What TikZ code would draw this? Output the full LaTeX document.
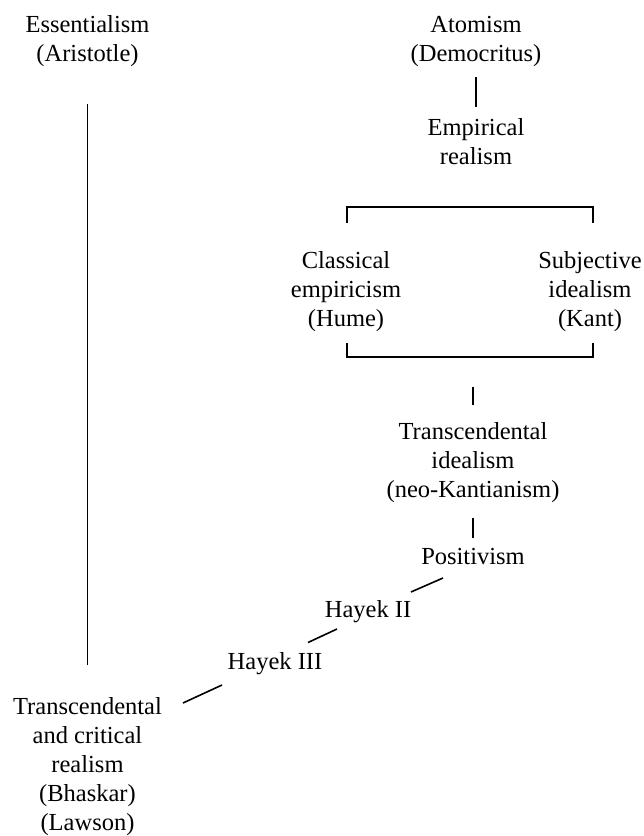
\documentclass[tikz,border=0pt]{standalone}
\usepackage{fontspec}
\setmainfont{Liberation Serif}
\usetikzlibrary{calc}
\tikzset{
  lbl/.style={anchor=base, inner sep=0pt, align=center, font=\fontsize{24.5}{29}\selectfont},
  conn/.style={line width=1.6pt, line cap=butt}
}
\begin{document}
\begin{tikzpicture}[x=1pt, y=1pt]
\useasboundingbox[fill=white] (0,0) rectangle (644,-836);
% nodes (positioned at last-line baselines)
\node[lbl] (ess) at (87.5,-61) {Essentialism\\(Aristotle)};
\node[lbl] (ato) at (476,-61) {Atomism\\(Democritus)};
\node[lbl] (emp) at (476,-164) {Empirical\\realism};
\node[lbl] (cla) at (346,-326.5) {Classical\\empiricism\\(Hume)};
\node[lbl] (sub) at (590,-326.5) {Subjective\\idealism\\(Kant)};
\node[lbl] (tid) at (473,-497.5) {Transcendental\\idealism\\(neo-Kantianism)};
\node[lbl] (pos) at (473,-564.5) {Positivism};
\node[lbl] (hk2) at (368,-617) {Hayek II};
\node[lbl] (hk3) at (275,-669) {Hayek III};
\node[lbl] (tcr) at (87.5,-830.5) {Transcendental\\and critical\\realism\\(Bhaskar)\\(Lawson)};
% connectors
\draw[conn] ([yshift=-43pt]ess.base) -- ([yshift=165.5pt]tcr.base);
\draw[conn] ([yshift=-16pt]ato.base) -- ([yshift=57pt]emp.base);
\draw[conn] ([shift={(1,103.5)}]cla.base) -- ([shift={(1,119.5)}]cla.base) -- ([shift={(3,119.5)}]sub.base) -- ([shift={(3,103.5)}]sub.base);
\draw[conn] ([shift={(1,-16.5)}]cla.base) -- ([shift={(1,-30.5)}]cla.base) -- ([shift={(3,-30.5)}]sub.base) -- ([shift={(3,-16.5)}]sub.base);
\draw[conn] ([yshift=110.5pt]tid.base) -- ([yshift=92.5pt]tid.base);
\draw[conn] ([yshift=-20.5pt]tid.base) -- ([yshift=26.5pt]pos.base);
\draw[conn] ([shift={(-30,-13.5)}]pos.base) -- ([shift={(43,25)}]hk2.base);
\draw[conn] ([shift={(-31,-12)}]hk2.base) -- ([shift={(33,26.5)}]hk3.base);
\draw[conn] ([shift={(-53,-16)}]hk3.base) -- ([shift={(95.5,127.5)}]tcr.base);
\end{tikzpicture}
\end{document}
